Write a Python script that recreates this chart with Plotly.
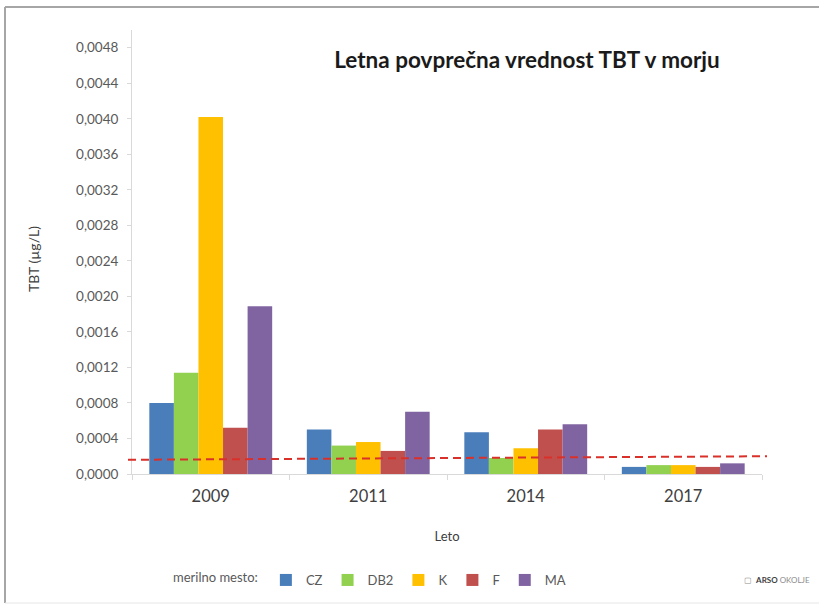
import plotly.graph_objects as go

years = ["2009", "2011", "2014", "2017"]
stations = ["CZ", "DB2", "K", "F", "MA"]
cz = [0.00080, 0.00050, 0.00047, 0.00008]
db2 = [0.00114, 0.00032, 0.00018, 0.00010]
k = [0.00402, 0.00036, 0.00029, 0.00010]
f = [0.00052, 0.00026, 0.00050, 0.00008]
ma = [0.00189, 0.00070, 0.00056, 0.00012]
series = [cz, db2, k, f, ma]
colors = ["#4a7ebb", "#92d050", "#ffc000", "#c0504d", "#8064a2"]
limit_line = [0.00016, 0.00020]  # dashed reference line (start, end)
y_ticks = [i * 0.0004 for i in range(13)]

FONT = "Lato, 'Open Sans', sans-serif"

# plot area in pixels
W, H = 819, 607
L, R, T, B = 132, 57, 30, 133
pw, ph = W - L - R, H - T - B


def px(x):
    return (x - L) / pw


def py(y):
    return (H - B - y) / ph


fig = go.Figure()
for name, vals, col in zip(stations, series, colors):
    fig.add_trace(go.Bar(x=years, y=vals, name=name, marker=dict(color=col, line=dict(width=0))))

fig.update_layout(
    width=W, height=H,
    margin=dict(l=L, r=R, t=T, b=B),
    paper_bgcolor="white", plot_bgcolor="white",
    separators=", ",
    barmode="group", bargap=0.22, bargroupgap=0,
    font=dict(family=FONT, color="#595959", size=13),
    title=dict(text="<b>Letna povprečna vrednost TBT v morju</b>",
               x=px(527), xref="paper", xanchor="center",
               y=1 - 60 / H, yanchor="middle",
               font=dict(family=FONT, size=22.5, color="#1a1a1a")),
    showlegend=True,
    legend=dict(orientation="h", x=px(371), xanchor="center", y=py(580), yanchor="middle",
                title=dict(text="merilno mesto:", side="left", font=dict(size=13, color="#595959")),
                font=dict(size=13, color="#595959"), itemwidth=30, traceorder="normal"),
)

fig.update_xaxes(
    type="category", showline=True, linecolor="#d9d9d9", linewidth=1,
    ticks="outside", tickson="boundaries", ticklen=5, tickcolor="#d9d9d9",
    tickfont=dict(size=16.5, color="#404040"), showgrid=False, ticklabelstandoff=7,
    title=dict(text="Leto", font=dict(size=13, color="#404040"), standoff=27),
)
fig.update_yaxes(
    range=[0, 0.005], tickvals=y_ticks, tickformat=".4f",
    showline=True, linecolor="#d9d9d9", linewidth=1,
    ticks="outside", ticklen=4, tickcolor="#d9d9d9", ticklabelstandoff=6,
    tickfont=dict(size=13.5, color="#595959"), showgrid=False, zeroline=False,
)

# dashed reference line
fig.add_shape(type="line", xref="paper", yref="y",
              x0=px(128), x1=px(767), y0=limit_line[0], y1=limit_line[1],
              line=dict(color="#d9302a", width=2, dash="8px,5px"))

# outer frame (top, left, bottom edges)
frame = dict(color="#a6a6a6", width=2)
fig.add_shape(type="line", xref="paper", yref="paper", x0=px(5), x1=px(819), y0=py(7), y1=py(7), line=frame)
fig.add_shape(type="line", xref="paper", yref="paper", x0=px(5), x1=px(5), y0=py(7), y1=py(603), line=frame)
fig.add_shape(type="line", xref="paper", yref="paper", x0=px(5), x1=px(819), y0=py(603), y1=py(603),
              line=dict(color="#e6e6e6", width=1))

fig.add_annotation(text="TBT (µg/L)", textangle=-90, xref="paper", yref="paper",
                   x=px(33), y=py(259), xanchor="center", yanchor="middle", showarrow=False,
                   font=dict(size=14, color="#404040"))
fig.add_annotation(text="▢  <b><span style='color:#404040'>ARSO</span></b> OKOLJE", xref="paper", yref="paper",
                   x=px(812), y=py(580), xanchor="right", yanchor="middle", showarrow=False,
                   font=dict(size=8, color="#8c8c8c"))

fig.write_html("out.html", config={"displayModeBar": False},
               post_script="document.body.style.margin='0';document.body.style.overflow='hidden';")
